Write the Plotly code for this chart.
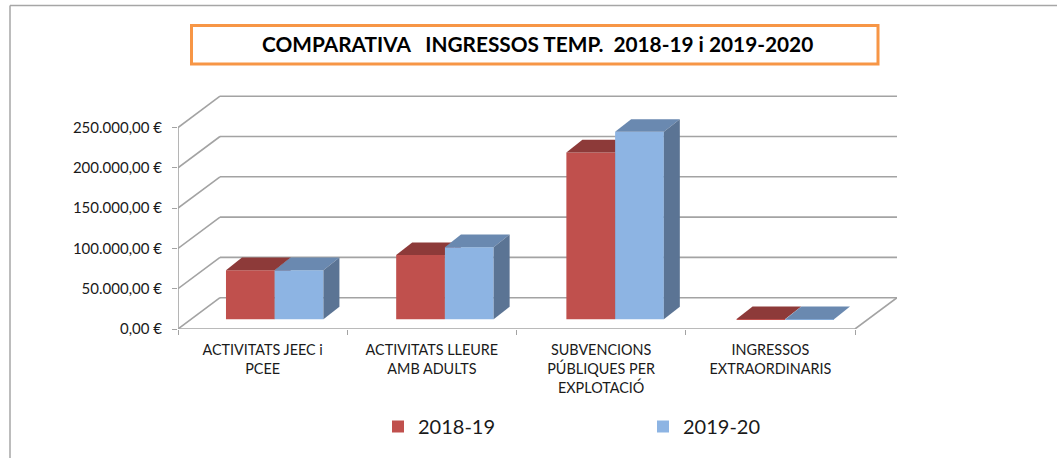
import plotly.graph_objects as go

categories = ["ACTIVITATS JEEC i<br>PCEE", "ACTIVITATS LLEURE<br>AMB ADULTS",
              "SUBVENCIONS<br>PÚBLIQUES PER<br>EXPLOTACIÓ", "INGRESSOS<br>EXTRAORDINARIS"]
series_names = ["2018-19", "2019-20"]
values_2018 = [61000, 79800, 207000, 300]
values_2019 = [61000, 89500, 232700, 200]
y_ticks = [0, 50000, 100000, 150000, 200000, 250000]
y_tick_labels = ["0,00 €", "50.000,00 €", "100.000,00 €", "150.000,00 €", "200.000,00 €", "250.000,00 €"]
title_text = "COMPARATIVA\u00a0\u00a0\u00a0INGRESSOS TEMP.\u00a0\u00a02018-19 i 2019-2020"

W, H = 1057, 458
L, R, T, B = 178, 897, 95, 329      # plot area in page pixels
FONT = "Lato"
GRID = "#a3a3a3"
PX_X = 169.25                        # px per category
PX_Y = 40.3 / 50000                  # px per euro
xmax = (R - L) / PX_X
ymax = (B - T) / PX_Y
ux = lambda px: px / PX_X
uy = lambda px: px / PX_Y
WALL_DX, WALL_DY = ux(R - 855), uy(31.3)
BAR_DY0 = uy(9.7)
BAR_DX, BAR_DY = ux(16), uy(12.6)
BAR_W = ux(48.7)
BAR_STEP = ux(170.2)
px2paper_x = lambda p: (p - L) / (R - L)
px2paper_y = lambda p: (B - p) / (B - T)

fig = go.Figure()
cats = [i + 0.5 for i in range(len(categories))]
bar_pos = [0.5 + i * BAR_STEP for i in range(len(categories))]

series = [
    (series_names[0], values_2018, -0.2165, "x", "y", "#C0504D", "#8D3A39", "#7A3230"),
    (series_names[1], values_2019, 0.0715, "x2", "y2", "#8DB4E3", "#6A89B0", "#5B7494"),
]
for name, vals, off, xa, ya, front, top, side in series:
    fig.add_trace(go.Bar(
        x=bar_pos, y=vals, base=[BAR_DY0] * len(vals), width=BAR_W, offset=off,
        name=name, marker=dict(color=front, line=dict(width=0)), xaxis=xa, yaxis=ya, hoverinfo="skip",
    ))
    for c, v in zip(bar_pos, vals):
        x0 = c + off
        x1 = x0 + BAR_W
        yb = BAR_DY0
        yt = yb + v
        fig.add_trace(go.Scatter(
            x=[x0, x1, x1 + BAR_DX, x0 + BAR_DX, x0], y=[yt, yt, yt + BAR_DY, yt + BAR_DY, yt],
            mode="lines", fill="toself", fillcolor=top, line=dict(width=0), showlegend=False,
            xaxis=xa, yaxis=ya, hoverinfo="skip"))
        fig.add_trace(go.Scatter(
            x=[x1, x1 + BAR_DX, x1 + BAR_DX, x1, x1], y=[yb, yb + BAR_DY, yt + BAR_DY, yt, yb],
            mode="lines", fill="toself", fillcolor=side, line=dict(width=0), showlegend=False,
            xaxis=xa, yaxis=ya, hoverinfo="skip"))

n = len(categories)
shapes = []
gl = dict(color=GRID, width=1.6)
for t in y_ticks:
    shapes.append(dict(type="line", xref="x", yref="y", x0=0, y0=t, x1=WALL_DX, y1=t + WALL_DY, line=gl, layer="below"))
    shapes.append(dict(type="line", xref="x", yref="y", x0=WALL_DX, y0=t + WALL_DY, x1=xmax, y1=t + WALL_DY, line=gl, layer="below"))
shapes.append(dict(type="line", xref="x", yref="y", x0=0, y0=0, x1=0, y1=y_ticks[-1], line=gl, layer="below"))
shapes.append(dict(type="line", xref="x", yref="y", x0=0, y0=0, x1=n, y1=0, line=gl, layer="below"))
shapes.append(dict(type="line", xref="x", yref="y", x0=n, y0=0, x1=xmax, y1=WALL_DY, line=gl, layer="below"))
# orange title box and outer chart border
shapes.append(dict(type="rect", xref="paper", yref="paper",
                   x0=px2paper_x(191.5), x1=px2paper_x(878), y0=px2paper_y(25.5), y1=px2paper_y(64),
                   line=dict(color="#F79646", width=3), fillcolor="white"))
shapes.append(dict(type="line", xref="paper", yref="paper", x0=px2paper_x(10), x1=px2paper_x(10),
                   y0=px2paper_y(5.5), y1=px2paper_y(458), line=dict(color="#a6a6a6", width=1.5)))
shapes.append(dict(type="line", xref="paper", yref="paper", x0=px2paper_x(10), x1=px2paper_x(1057),
                   y0=px2paper_y(5.5), y1=px2paper_y(5.5), line=dict(color="#a6a6a6", width=1.5)))

fig.update_layout(
    width=W, height=H, autosize=False,
    margin=dict(l=L, r=W - R, t=T, b=H - B, pad=0),
    paper_bgcolor="white", plot_bgcolor="white",
    barmode="overlay", shapes=shapes,
    font=dict(family=FONT, color="#1a1a1a", size=14),
    annotations=[dict(text=f"<b>{title_text}</b>", xref="paper", yref="paper",
                      x=px2paper_x(537), y=px2paper_y(43.5), xanchor="center", yanchor="middle",
                      showarrow=False, font=dict(family=FONT, size=20.8, color="black"))],
    xaxis=dict(range=[0, xmax], tickmode="array", tickvals=cats, ticktext=categories, ticks="",
               showgrid=False, zeroline=False, showline=False, fixedrange=True,
               ticklabelstandoff=11, tickfont=dict(family=FONT, size=14.4),
               minor=dict(tickmode="array", tickvals=list(range(n + 1)), ticks="outside", ticklen=5,
                          tickcolor=GRID, tickwidth=1.2, showgrid=False)),
    yaxis=dict(range=[0, ymax], tickmode="array", tickvals=y_ticks, ticktext=y_tick_labels, ticks="outside",
               ticklen=5, tickcolor=GRID, tickwidth=1.2, showgrid=False, zeroline=False, showline=False,
               fixedrange=True, ticklabelstandoff=7, tickfont=dict(family=FONT, size=15)),
    xaxis2=dict(range=[0, xmax], overlaying="x", visible=False, fixedrange=True),
    yaxis2=dict(range=[0, ymax], overlaying="y", visible=False, fixedrange=True),
    legend=dict(orientation="h", xref="container", yref="container", x=378 / W, y=1 - 407 / H,
                xanchor="left", yanchor="top", entrywidth=220, entrywidthmode="pixels",
                font=dict(family=FONT, size=20, color="#1a1a1a"), bgcolor="rgba(0,0,0,0)", traceorder="normal"),
)

fig.write_html("out.html", config=dict(displayModeBar=False),
               post_script="document.body.style.margin='0';document.documentElement.style.overflow='hidden';")
